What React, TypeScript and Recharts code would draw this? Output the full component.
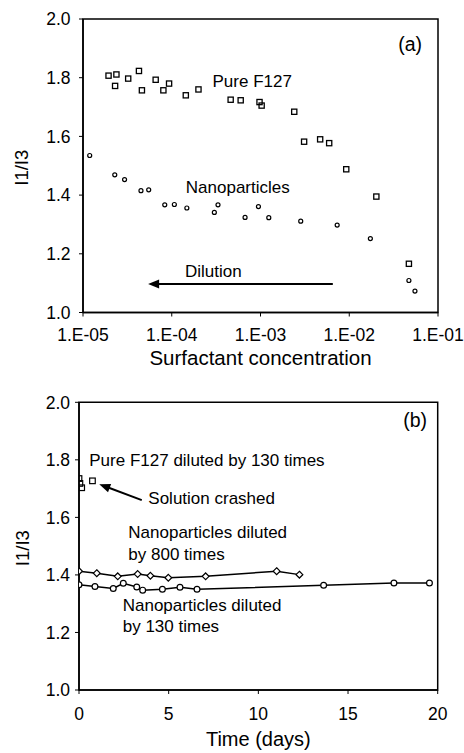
import React from 'react';
import {
  ScatterChart, Scatter, XAxis, YAxis, ReferenceArea, ReferenceDot, ReferenceLine,
} from 'recharts';

// ---------- Panel (a) data ----------
const aF127X = [1.94e-5, 2.38e-5, 2.30e-5, 3.23e-5, 4.27e-5, 4.61e-5, 6.59e-5, 8.05e-5, 9.33e-5, 1.44e-4, 2.0e-4, 4.61e-4, 5.98e-4, 9.75e-4, 1.03e-3, 2.40e-3, 3.10e-3, 4.70e-3, 5.94e-3, 9.25e-3, 2.02e-2, 4.70e-2];
const aF127Y = [1.807, 1.811, 1.772, 1.797, 1.823, 1.757, 1.793, 1.757, 1.780, 1.740, 1.760, 1.725, 1.723, 1.717, 1.705, 1.684, 1.582, 1.590, 1.577, 1.488, 1.395, 1.166];
const aNanoX = [1.19e-5, 2.28e-5, 2.94e-5, 4.50e-5, 5.50e-5, 8.34e-5, 1.07e-4, 1.48e-4, 3.02e-4, 3.32e-4, 6.70e-4, 9.48e-4, 1.24e-3, 2.84e-3, 7.31e-3, 1.73e-2, 4.70e-2, 5.50e-2];
const aNanoY = [1.535, 1.469, 1.453, 1.415, 1.418, 1.367, 1.368, 1.356, 1.341, 1.367, 1.324, 1.361, 1.323, 1.311, 1.298, 1.252, 1.109, 1.073];
const aXTicks = [1e-5, 1e-4, 1e-3, 1e-2, 1e-1];
const aXTickLabels = ['1.E-05', '1.E-04', '1.E-03', '1.E-02', '1.E-01'];

// ---------- Panel (b) data ----------
const bF127Day = [0, 0.05, 0.15, 0.75];
const bF127Y = [1.735, 1.718, 1.703, 1.727];
const bNano800Day = [0, 0.99, 2.16, 3.27, 3.98, 4.98, 7.06, 11.02, 12.29];
const bNano800Y = [1.413, 1.406, 1.395, 1.403, 1.397, 1.390, 1.395, 1.413, 1.401];
const bNano130Day = [0, 0.89, 1.91, 2.47, 3.22, 3.55, 4.65, 5.63, 6.58, 13.64, 17.56, 19.54];
const bNano130Y = [1.366, 1.360, 1.353, 1.371, 1.358, 1.347, 1.350, 1.357, 1.350, 1.364, 1.372, 1.372];
const bXTicks = [0, 5, 10, 15, 20];

const yTicks = [1.0, 1.2, 1.4, 1.6, 1.8, 2.0];

const zip = (xs: number[], ys: number[]) => xs.map((x, i) => ({ x, y: ys[i] }));

const FONT = '"Liberation Sans", Arial, sans-serif';
const tickStyle = { fontSize: 17.5, fill: '#000', fontFamily: FONT };

const SquareA = (p: any) => (
  <rect x={p.cx - 2.6} y={p.cy - 2.6} width={5.2} height={5.2} fill="none" stroke="#000" strokeWidth={1.3} />
);
const CircleA = (p: any) => (
  <circle cx={p.cx} cy={p.cy} r={2} fill="none" stroke="#000" strokeWidth={1.2} />
);
const SquareB = (p: any) => (
  <rect x={p.cx - 2.8} y={p.cy - 2.8} width={5.6} height={5.6} fill="none" stroke="#000" strokeWidth={1.2} />
);
const DiamondB = (p: any) => (
  <polygon
    points={`${p.cx},${p.cy - 3.4} ${p.cx + 3.4},${p.cy} ${p.cx},${p.cy + 3.4} ${p.cx - 3.4},${p.cy}`}
    fill="#fff" stroke="#000" strokeWidth={1.2}
  />
);
const CircleB = (p: any) => (
  <circle cx={p.cx} cy={p.cy} r={2.9} fill="#fff" stroke="#000" strokeWidth={1.2} />
);

const textShape = (txt: string, size: number, anchor: 'start' | 'middle' = 'start') => (p: any) => (
  <text x={p.cx} y={p.cy} fontSize={size} fontFamily={FONT} fill="#000" textAnchor={anchor} dominantBaseline="central">
    {txt}
  </text>
);

const arrowHead = (deg: number) => (p: any) => (
  <polygon points="0,0 -11,-4.5 -11,4.5" fill="#000" transform={`translate(${p.cx},${p.cy}) rotate(${deg})`} />
);

const yLabel = (offset: number) => ({
  content: (props: any) => {
    const vb = props.viewBox || { x: 0, y: 0, width: 0, height: 0 };
    const cx = vb.x + offset;
    const cy = vb.y + vb.height / 2 + 2;
    return (
      <text x={cx} y={cy} transform={`rotate(-90 ${cx} ${cy})`} textAnchor="middle" dominantBaseline="central"
        fontSize={18.5} fontFamily={FONT} fill="#000">I1/I3</text>
    );
  },
});

export default function App() {
  return (
    <div style={{ position: 'absolute', left: 0, top: 0, width: 464, height: 753, background: '#fff', fontFamily: FONT }}>
      <div style={{ position: 'absolute', left: 0, top: 0 }}>
        <ScatterChart width={464} height={370} margin={{ top: 19, right: 26, left: 0, bottom: 27.5 }}>
          <XAxis
            type="number" dataKey="x" scale="log" domain={[1e-5, 1e-1]} ticks={aXTicks} allowDataOverflow
            tickFormatter={(v: number, i: number) => aXTickLabels[i] ?? String(v)}
            tick={tickStyle} tickSize={4} tickMargin={12} height={30}
            axisLine={{ stroke: '#000', strokeWidth: 1.5 }} tickLine={{ stroke: '#000' }}
            label={{ value: 'Surfactant concentration', position: 'bottom', offset: 7.5, fontSize: 20.5, fill: '#000', fontFamily: FONT }}
          />
          <YAxis
            type="number" dataKey="y" domain={[1, 2]} ticks={yTicks} allowDataOverflow
            tickFormatter={(v: number) => v.toFixed(1)} width={83}
            tick={tickStyle} tickSize={4} tickMargin={8.5}
            axisLine={{ stroke: '#000', strokeWidth: 1.5 }} tickLine={{ stroke: '#000' }}
            label={yLabel(21.7)}
          />
          <ReferenceArea x1={1e-5} x2={1e-1} y1={1} y2={2} fill="none" stroke="#000" strokeWidth={1.5} />
          <Scatter data={zip(aF127X, aF127Y)} shape={SquareA} isAnimationActive={false} />
          <Scatter data={zip(aNanoX, aNanoY)} shape={CircleA} isAnimationActive={false} />
          <ReferenceLine segment={[{ x: 6.53e-3, y: 1.097 }, { x: 6.44e-5, y: 1.097 }]} stroke="#000" strokeWidth={2} />
          <ReferenceDot x={5.42e-5} y={1.097} r={0} shape={arrowHead(180)} />
          <ReferenceDot x={0.0486} y={1.914} r={0} shape={textShape('(a)', 19.5, 'middle')} />
          <ReferenceDot x={2.88e-4} y={1.788} r={0} shape={textShape('Pure F127', 17)} />
          <ReferenceDot x={1.44e-4} y={1.425} r={0} shape={textShape('Nanoparticles', 17)} />
          <ReferenceDot x={1.41e-4} y={1.141} r={0} shape={textShape('Dilution', 17)} />
        </ScatterChart>
      </div>
      <div style={{ position: 'absolute', left: 0, top: 370 }}>
        <ScatterChart width={464} height={383} margin={{ top: 32.3, right: 26.3, left: 0, bottom: 33 }}>
          <XAxis
            type="number" dataKey="x" domain={[0, 20]} ticks={bXTicks} allowDataOverflow
            tick={tickStyle} tickSize={4} tickMargin={14} height={30}
            axisLine={{ stroke: '#000', strokeWidth: 1.5 }} tickLine={{ stroke: '#000' }}
            label={{ value: 'Time (days)', position: 'bottom', offset: 12, fontSize: 20, fill: '#000', fontFamily: FONT }}
          />
          <YAxis
            type="number" dataKey="y" domain={[1, 2]} ticks={yTicks} allowDataOverflow
            tickFormatter={(v: number) => v.toFixed(1)} width={79}
            tick={tickStyle} tickSize={4} tickMargin={5}
            axisLine={{ stroke: '#000', strokeWidth: 1.5 }} tickLine={{ stroke: '#000' }}
            label={yLabel(22.5)}
          />
          <ReferenceArea x1={0} x2={20} y1={1} y2={2} fill="none" stroke="#000" strokeWidth={1.5} />
          <Scatter data={zip(bNano130Day, bNano130Y)} shape={CircleB} line={{ stroke: '#000', strokeWidth: 1.5 }} isAnimationActive={false} />
          <Scatter data={zip(bNano800Day, bNano800Y)} shape={DiamondB} line={{ stroke: '#000', strokeWidth: 1.5 }} isAnimationActive={false} />
          <Scatter data={zip(bF127Day, bF127Y)} shape={SquareB} isAnimationActive={false} />
          <ReferenceLine segment={[{ x: 3.5, y: 1.66 }, { x: 1.44, y: 1.708 }]} stroke="#000" strokeWidth={2} />
          <ReferenceDot x={1.13} y={1.715} r={0} shape={arrowHead(200.4)} />
          <ReferenceDot x={18.74} y={1.939} r={0} shape={textShape('(b)', 19.5, 'middle')} />
          <ReferenceDot x={0.574} y={1.799} r={0} shape={textShape('Pure F127 diluted by 130 times', 17)} />
          <ReferenceDot x={3.865} y={1.667} r={0} shape={textShape('Solution crashed', 17)} />
          <ReferenceDot x={2.75} y={1.546} r={0} shape={textShape('Nanoparticles diluted', 17)} />
          <ReferenceDot x={2.75} y={1.471} r={0} shape={textShape('by 800 times', 17)} />
          <ReferenceDot x={2.437} y={1.292} r={0} shape={textShape('Nanoparticles diluted', 17)} />
          <ReferenceDot x={2.437} y={1.221} r={0} shape={textShape('by 130 times', 17)} />
        </ScatterChart>
      </div>
    </div>
  );
}
